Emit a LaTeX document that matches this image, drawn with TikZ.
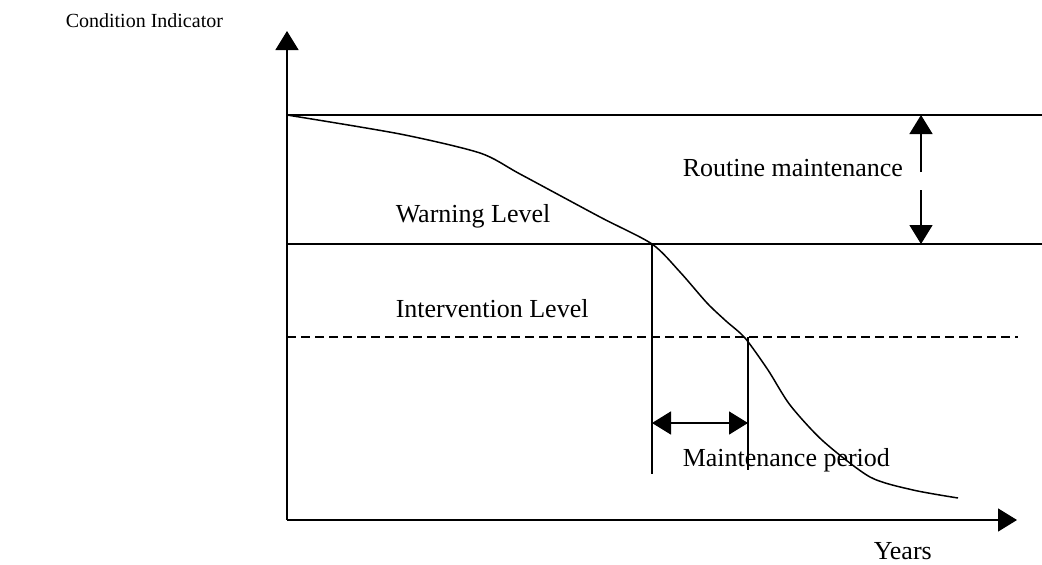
\documentclass[tikz,border=0pt]{standalone}
\usepackage{fontspec}
\setmainfont{Liberation Serif}
\usetikzlibrary{arrows.meta}
\tikzset{
  font={\fontsize{26pt}{30pt}\selectfont}}

\begin{document}
\begin{tikzpicture}[x=1pt,y=-1pt,line width=1.5pt,
  tip/.style={-{Triangle[length=19pt,width=23pt]}},
  lab/.style={anchor=base west,inner sep=0pt}]
\useasboundingbox (0,0) rectangle (1042,565);
% axes
\coordinate (O) at (287,520);
\coordinate (ytop) at (287,31);
\coordinate (xend) at (1017,520);
\draw [tip] (O) -- (ytop);
\draw [tip] (O) -- (xend);
% levels
\coordinate (top0) at (287,115);
\coordinate (top1) at (1042,115);
\coordinate (warn0) at (287,244);
\coordinate (warn1) at (1042,244);
\coordinate (int0) at (287,337);
\coordinate (int1) at (1018,337);
\draw (top0) -- (top1);
\draw (warn0) -- (warn1);
\draw [dashed,dash pattern=on 9pt off 5pt] (int0) -- (int1);
% decay curve
\draw plot [smooth,tension=0.45] coordinates {
  (287,115) (400,134) (480,153) (520,174) (600,217) (652,244)
  (680,272) (707,303) (726,321) (745,338) (768,370) (790,405)
  (823,441) (870,477) (913,490) (958,498)};
% maintenance period
\coordinate (w) at (652,244);
\coordinate (wb) at (652,474);
\coordinate (i) at (748,337);
\coordinate (ib) at (748,470);
\draw (w) -- (wb);
\draw (i) -- (ib);
\coordinate (pl) at (652,423);
\coordinate (pr) at (748,423);
\draw [{Triangle[length=19pt,width=23pt]}-{Triangle[length=19pt,width=23pt]}] (pl) -- (pr);
% routine maintenance
\coordinate (ru) at (921,172);
\coordinate (rt) at (921,115);
\coordinate (rd) at (921,190);
\coordinate (rb) at (921,244);
\draw [tip] (ru) -- (rt);
\draw [tip] (rd) -- (rb);
% labels
\node [lab,font={\fontsize{20pt}{24pt}\selectfont}] (ci) at (65,27) {Condition Indicator};
\node [lab] (wl) at (395,222) {Warning Level};
\node [lab] (il) at (395,317) {Intervention Level};
\node [lab] (rm) at (682,176) {Routine maintenance};
\node [lab] (mp) at (682,466) {Maintenance period};
\node [lab] (yr) at (873,559) {Years};
\end{tikzpicture}
\end{document}
